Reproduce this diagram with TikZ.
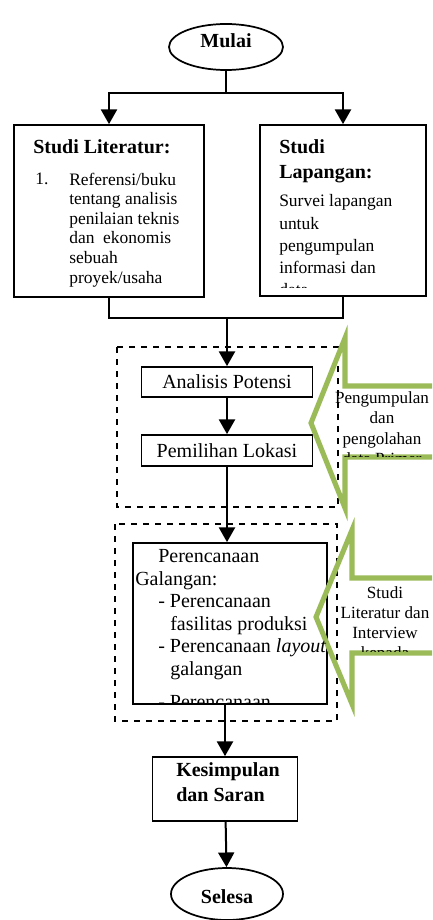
\documentclass[tikz,border=0pt]{standalone}
\usepackage{fontspec}
\setmainfont{Liberation Serif}
\usetikzlibrary{shapes.geometric,arrows.meta}
\definecolor{hijau}{RGB}{155,187,89}

\begin{document}
\begin{tikzpicture}[x=0.75pt,y=0.75pt,yscale=-1,xscale=1,
		kotak/.style={draw,line width=1.3pt,rectangle,inner sep=0pt},
		terminal/.style={draw,line width=1.3pt,ellipse,inner sep=0pt},
		alur/.style={line width=1.5pt,-{Triangle[length=11pt,width=12pt]}},
		garis/.style={line width=1.5pt},
		bingkai/.style={line width=1.1pt,dash pattern={on 4.5pt off 4.5pt}},
		panah/.style={draw=hijau,line width=3.8pt,line join=miter},
		judul/.style={inner sep=0pt,font=\fontsize{15}{19.5}\selectfont\bfseries},
		isi/.style={inner sep=0pt,font=\fontsize{13.1}{14.7}\selectfont},
		ket/.style={inner sep=0pt,font=\fontsize{12.8}{15.4}\selectfont}]
				\clip (0,0) rectangle (432,920);

				%Shape: Ellipse [id:mulai]
				\node[terminal,minimum width=85.5pt,minimum height=34.5pt] (mulai) at (226,47) {};
				%Shape: Rectangle [id:lit]
				\node[kotak,minimum width=142.5pt,minimum height=129pt] (lit) at (109,211) {};
				%Shape: Rectangle [id:lap]
				\node[kotak,minimum width=124.5pt,minimum height=128.25pt] (lap) at (343,210.5) {};
				%Shape: Rectangle [id:analisis]
				\node[kotak,minimum width=128.25pt,minimum height=22.5pt,font=\fontsize{15}{18}\selectfont] (analisis) at (227,382) {Analisis Potensi};
				%Shape: Rectangle [id:pemilihan]
				\node[kotak,minimum width=128.25pt,minimum height=23.25pt,font=\fontsize{15}{18}\selectfont] (pemilihan) at (227,450.5) {Pemilihan Lokasi};
				%Shape: Rectangle [id:rencana]
				\node[kotak,minimum width=145.5pt,minimum height=120.75pt] (rencana) at (230,623.5) {};
				%Shape: Rectangle [id:simpul]
				\node[kotak,minimum width=108.75pt,minimum height=48pt] (simpul) at (225,789) {};
				%Shape: Ellipse [id:selesai]
				\node[terminal,minimum width=84pt,minimum height=39pt] (selesai) at (227,894) {};

				%Shape: Rectangle [id:bingkai1]
				\draw[bingkai] (117,347) rectangle (338,507);
				%Shape: Rectangle [id:bingkai2]
				\draw[bingkai] (115,524) rectangle (337,721);

				%Straight Lines [id:cabang]
				\coordinate (cabang) at (226,93);
				\draw[garis] (mulai.south) -- (cabang);
				\draw[alur] (cabang) -| (lit.north);
				\draw[alur] (cabang) -| (lap.north);
				%Straight Lines [id:gabung]
				\coordinate (gabung) at (227,318);
				\draw[garis] (lit.south) |- (gabung) -| (lap.south);
				\draw[alur] (gabung) -- (analisis.north);
				%Straight Lines
				\draw[alur] (analisis) -- (pemilihan);
				\draw[alur] (pemilihan.south) -- (pemilihan.south |- rencana.north);
				\draw[alur] (rencana.south -| simpul.north) -- (simpul.north);
				\draw[alur] (simpul) -- (selesai);

				%Shape: Left Arrow [id:panah1]
				\draw[panah] (450,386) -- (345,386) -- (345,338) -- (311,423) -- (345,508) -- (345,457) -- (450,457);
				%Shape: Left Arrow [id:panah2]
				\draw[panah] (450,578) -- (352,578) -- (352,530) -- (316,617) -- (352,704) -- (352,653) -- (450,653);

				% Text Node
				\node[judul,anchor=base] (mulaitxt) at (226,48) {Mulai};
				% Text Node
				\node[judul,anchor=base west] (litjudul) at (33,153) {Studi Literatur:};
				% Text Node
				\node[isi,anchor=base west] (litno) at (35,185) {1.};
				% Text Node (base = last line)
				\node[isi,anchor=base west,align=left] (litisi) at (69,283) {Referensi/buku\\tentang analisis\\penilaian teknis\\dan\ \ ekonomis\\sebuah\\proyek/usaha};
				% Text Node
				\node[judul,anchor=base west,align=left] (lapjudul) at (279,179) {Studi\\Lapangan:};
				% Text Node
				\begin{scope}
					\clip (260,125) rectangle (426,287);
					\node[isi,anchor=base west,align=left,font=\fontsize{13.1}{16.6}\selectfont] (lapisi) at (279,295.5) {Survei lapangan\\untuk\\pengumpulan\\informasi dan\\data};
				\end{scope}
				% Text Node
				\begin{scope}
					\clip (133,543) rectangle (327,702);
					\node[inner sep=0pt,anchor=base west,align=left,font=\fontsize{15}{16.9}\selectfont] (rencanaisi) at (135,708) {\hspace*{17.25pt}Perencanaan\\Galangan:\\\hspace*{17.25pt}- Perencanaan\\\hspace*{26.25pt}fasilitas produksi\\\hspace*{17.25pt}- Perencanaan \textit{layout}\\\hspace*{26.25pt}galangan\\[7.5pt]\hspace*{17.25pt}- Perencanaan};
				\end{scope}
				% Text Node
				\node[judul,anchor=base west,align=left,font=\fontsize{15}{18.75}\selectfont\bfseries] (simpulisi) at (176,801) {Kesimpulan\\dan Saran};
				% Text Node
				\node[judul,anchor=base] (selesaitxt) at (227,903) {Selesa};
				% Text Node
				\begin{scope}
					\clip (320,380) rectangle (432,456);
					\node[ket,anchor=base,align=center] (datatxt) at (382,464.6) {Pengumpulan\\dan\\pengolahan\\data Primer};
				\end{scope}
				% Text Node
				\begin{scope}
					\clip (320,570) rectangle (432,651);
					\node[ket,anchor=base,align=center,font=\fontsize{12.8}{15}\selectfont] (studitxt) at (385,658) {Studi\\Literatur dan\\Interview\\kepada};
				\end{scope}

		\end{tikzpicture}
\end{document}
